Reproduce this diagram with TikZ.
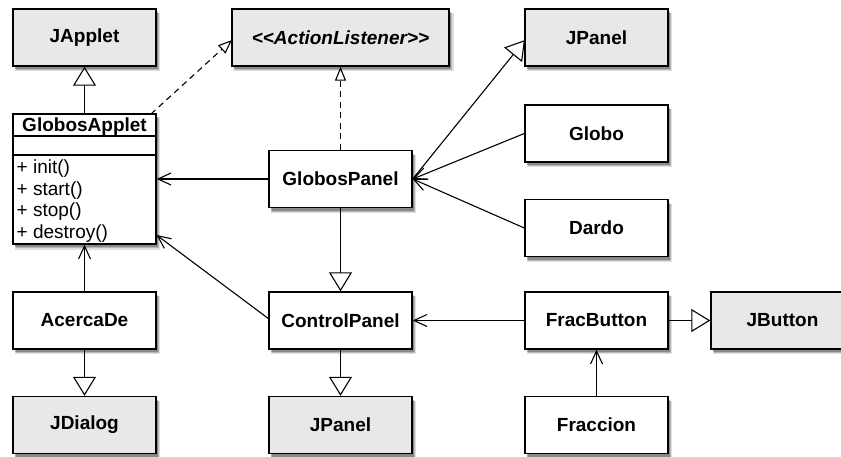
\documentclass[tikz,border=0pt]{standalone}
\usepackage{fontspec}
\setmainfont{Liberation Sans}
\usetikzlibrary{arrows.meta,shadows,calc}
\definecolor{libgray}{HTML}{E8E8E8}
\begin{document}
\begin{tikzpicture}[x=1pt,y=-1pt,
  softshadow/.style={
    drop shadow={shadow xshift=3pt,shadow yshift=-4.5pt,opacity=0.12,fill=black,shadow scale=1.02},
    drop shadow={shadow xshift=2.5pt,shadow yshift=-4pt,opacity=0.18,fill=black},
    drop shadow={shadow xshift=2pt,shadow yshift=-3pt,opacity=0.25,fill=black}},
  cls/.style={draw=black,line width=1.4pt,fill=white,minimum width=143pt,minimum height=57pt,inner sep=0pt,
    font=\fontsize{19}{21.5}\selectfont\bfseries,softshadow},
  lib/.style={cls,fill=libgray},
  mtxt/.style={inner sep=0pt,anchor=base west,font=\fontsize{19}{21.5}\selectfont},
  conn/.style={draw=black,line width=1.1pt},
  gen/.style={conn,-{Triangle[open,length=19pt,width=23pt,line width=1.1pt]}},
  real/.style={conn,dash pattern=on 6pt off 4.5pt,-{Triangle[open,length=14pt,width=11pt,line width=1.1pt]}},
  assoc/.style={conn,-{Straight Barb[length=13pt,width=12pt,line width=1.1pt]}}
]
\useasboundingbox (0,0) rectangle (841,456);
\fill[white] (0,0) rectangle (841,456);
\clip (0,0) rectangle (841,456);

% nodes
\node[lib] (japplet) at (84.5,37.5) {JApplet};
\node[lib,minimum width=217pt] (al) at (340.5,37.5) {\itshape <{}<ActionListener>{}>};
\node[lib] (jpanel1) at (596.5,37.5) {JPanel};
\node[cls] (globo) at (596.5,133.5) {Globo};
\node[cls] (dardo) at (596.5,228) {Dardo};
\node[cls] (gp) at (340.5,179) {GlobosPanel};
\node[cls] (acerca) at (84.5,320.5) {AcercaDe};
\node[cls] (cp) at (340.5,320.5) {ControlPanel};
\node[lib] (jdialog) at (84.5,425) {JDialog};
\node[lib] (jpanel2) at (340.5,425) {JPanel};
\node[cls] (fb) at (596.5,320.5) {FracButton};
\node[lib] (jbutton) at (782.5,320.5) {JButton};
\node[cls] (frac) at (596.5,425) {Fraccion};

% GlobosApplet class with compartments
\node[cls,minimum height=130pt] (ga) at (84.5,179) {};
\draw[line width=1.4pt] (13,136) -- (156,136);
\draw[line width=1.4pt] (13,155) -- (156,155);
\node[inner sep=0pt,anchor=base,font=\fontsize{19}{21.5}\selectfont\bfseries] (gatitle) at (84.5,131) {GlobosApplet};
\node[mtxt] (m1) at (16.5,173.5) {+ init()};
\node[mtxt] (m2) at (16.5,195) {+ start()};
\node[mtxt] (m3) at (16.5,216.5) {+ stop()};
\node[mtxt] (m4) at (16.5,238) {+ destroy()};

% connector anchors
\coordinate (gaTR) at (151,114);
\coordinate (gaRlow) at (156.5,235);
\coordinate (alL) at (232,40);
\coordinate (jp1L) at (525,40);
\coordinate (cpL) at (269,319);

% connectors
\draw[gen] (ga.north) -- (japplet.south);
\draw[real] (gaTR) -- (alL);
\draw[real] (gp.north) -- (al.south);
\draw[gen] (gp.east) -- (jp1L);
\draw[assoc] (globo.west) -- (gp.east);
\draw[assoc] (dardo.west) -- (gp.east);
\draw[assoc] (gp.west) -- (gp.west -| ga.east);
\draw[gen] (gp.south) -- (cp.north);
\draw[assoc] (cpL) -- (gaRlow);
\draw[assoc] (acerca.north) -- (ga.south);
\draw[gen] (acerca.south) -- (jdialog.north);
\draw[gen] (cp.south) -- (jpanel2.north);
\draw[assoc] (fb.west) -- (cp.east);
\draw[gen] (fb.east) -- (jbutton.west);
\draw[assoc] (frac.north) -- (fb.south);
\end{tikzpicture}
\end{document}
